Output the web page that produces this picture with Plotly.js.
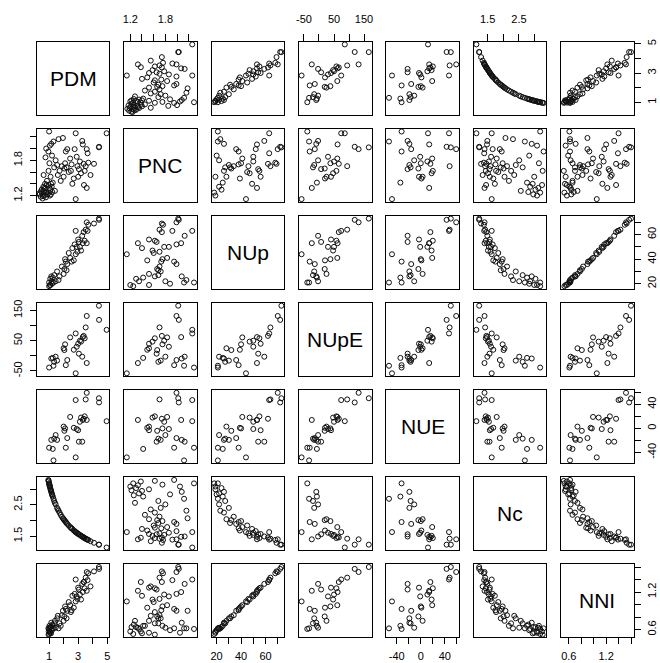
<!DOCTYPE html>
<html>
<head>
<meta charset="utf-8">
<script src="https://cdn.plot.ly/plotly-3.0.1.min.js"></script>
<style>body{margin:0;background:#fff}#chart{width:660px;height:663px}</style>
</head>
<body>
<div id="chart"></div>
<script>
// ---- data (one entry per observation; null = missing) ----
const PDM = [0.95,0.96,0.97,1.00,1.00,1.02,1.05,1.05,1.08,1.10,
             1.12,1.15,1.18,1.20,1.25,1.30,1.35,1.40,1.45,1.55,
             1.65,1.72,1.80,1.88,1.95,2.00,2.10,2.20,2.25,2.35,
             2.45,2.55,2.60,2.70,2.76,2.83,2.83,2.90,2.95,3.05,
             3.12,3.20,3.28,3.32,3.38,3.45,3.52,3.59,3.59,3.70,
             3.85,4.09,4.43,4.44,4.96,1.03,1.13,1.22,1.60,2.05,
             2.50,3.00,3.40,3.65,2.15,
             0.33,0.35,0.42,0.45,0.48,0.52,0.55,0.58,0.60,0.62,
             0.63,0.65,0.68,0.70,0.72,0.75,0.75,0.78,0.80,0.80,
             0.82,0.85,0.88];
const PNC = [1.95,1.62,1.38,2.29,1.25,1.75,1.20,2.05,1.30,1.52,
             1.22,2.08,1.35,1.88,1.42,2.12,1.68,1.28,1.80,1.72,
             2.16,1.62,1.45,1.70,2.18,1.52,1.75,1.68,1.99,1.60,
             1.83,1.73,1.40,1.49,1.99,2.26,1.14,1.86,1.70,1.65,
             1.78,1.58,2.13,2.07,1.74,1.62,1.70,1.99,1.33,1.76,
             1.55,1.74,2.02,2.03,2.26,1.33,1.40,1.26,1.55,1.66,
             1.62,1.52,1.38,1.92,1.95,
             1.24,1.22,1.18,1.27,1.30,1.25,1.15,1.19,1.35,1.55,
             1.28,1.33,1.20,1.25,1.40,1.32,1.85,1.17,1.26,2.00,
             1.38,1.45,1.22];
const NUp = [null,null,null,21,18,null,19,null,24,19,
             null,26,22,20,25,21,27,null,22,30,
             23,26,null,34,null,28,40,31,36,45,
             41,38,49,39,52,63,44,50,46,54,
             50,47,59,53,62,55,64,70,53,68,
             null,69,73,72,null,null,null,null,null,32,
             null,56,null,63,38,
             null,null,null,null,null,null,null,null,null,null,
             null,null,null,null,null,null,null,null,null,null,
             null,null,null];
const NUpE = [null,null,null,-39,null,null,null,null,null,null,
              null,-9,null,null,-7,-33,-20,null,-3,-16,
              null,null,null,null,null,25,38,null,-14,null,
              61,null,null,20,null,74,-58,30,null,7,
              50,47,-3,62,66,58,94,132,-24,null,
              null,null,166,119,86,null,null,null,null,19,
              null,40,null,null,-31,
              null,null,null,null,null,null,null,null,null,null,
              null,null,null,null,null,null,null,null,null,null,
              null,null,null];
const NUE = [null,null,null,-32,null,null,null,null,null,null,
             null,-19,null,null,-34,-53,-17,null,-11,-19,
             null,null,null,null,null,3,0,null,-16,null,
             19,null,null,1,null,47,-48,-1,null,-22,
             11,18,-22,14,16,20,48,59,14,null,
             null,null,50,43,12,null,null,null,null,-4,
             null,-3,null,null,-32,
             null,null,null,null,null,null,null,null,null,null,
             null,null,null,null,null,null,null,null,null,null,
             null,null,null];
const Nc = [3.29,3.26,3.24,3.18,3.18,3.14,3.08,3.08,3.03,2.99,
            2.96,2.91,2.86,2.83,2.76,2.69,2.62,2.56,2.51,2.40,
            2.31,2.25,2.18,2.12,2.07,2.04,1.98,1.92,1.89,1.84,
            1.79,1.75,1.73,1.68,1.66,1.63,1.63,1.61,1.59,1.56,
            1.54,1.51,1.49,1.48,1.46,1.44,1.42,1.40,1.40,1.38,
            1.34,1.29,1.23,1.23,1.14,3.12,2.94,2.80,2.35,2.01,
            1.77,1.57,1.45,1.39,1.95,
            null,null,null,null,null,null,null,null,null,null,
            null,null,null,null,null,null,null,null,null,null,
            null,null,null];
const NNI = [0.62,0.52,0.57,0.61,0.53,0.66,0.57,0.55,0.64,0.55,
             0.64,0.71,0.61,0.59,0.66,0.62,0.70,0.74,0.63,0.78,
             0.62,0.70,0.66,0.83,0.90,0.74,0.97,0.78,0.90,1.04,
             0.99,0.91,1.14,0.95,1.17,1.40,1.05,1.13,1.09,1.24,
             1.16,1.08,1.33,1.20,1.36,1.26,1.43,1.52,1.22,1.50,
             1.29,1.53,1.60,1.57,null,0.63,0.54,0.68,0.82,0.81,
             0.88,1.27,1.36,1.39,0.93,
             null,null,null,null,null,null,null,null,null,null,
             null,null,null,null,null,null,null,null,null,null,
             null,null,null];

const varNames = ['PDM','PNC','NUp','NUpE','NUE','Nc','NNI'];
const series = [PDM, PNC, NUp, NUpE, NUE, Nc, NNI];
const tickVals = [[1,2,3,4,5],[1.2,1.4,1.6,1.8,2.0,2.2],[20,30,40,50,60,70],
                  [-50,0,50,100,150],[-40,-20,0,20,40,60],[1.5,2.0,2.5,3.0],
                  [0.6,0.8,1.0,1.2,1.4,1.6]];
const tickText = [['1','','3','','5'],['1.2','','','1.8','',''],['20','','40','','60',''],
                  ['-50','','50','','150'],['-40','','0','','40',''],['1.5','','2.5',''],
                  ['0.6','','','1.2','','']];

// ---- layout geometry ----
const Wp = 660, Hp = 663;
const L0 = 36.7, PX = 87.4, PW = 72.6;
const T0 = 41.7, PY = 87.1, PH = 73;

function rangeOf(a){
  const v = a.filter(x => x !== null);
  const mn = Math.min(...v), mx = Math.max(...v), d = (mx - mn) * 0.04;
  return [mn - d, mx + d];
}
const ranges = series.map(rangeOf);

const tickFont = {family:'Liberation Sans, Arial, sans-serif', size:11, color:'#000'};
const layout = {
  width: Wp, height: Hp,
  margin: {l:0, r:0, t:0, b:0, pad:0},
  showlegend: false,
  paper_bgcolor: '#fff', plot_bgcolor: '#fff',
  font: {family:'Liberation Sans, Arial, sans-serif', size:11, color:'#000'},
  annotations: []
};
const traces = [];
const n = varNames.length;
for (let r = 0; r < n; r++) {
  for (let c = 0; c < n; c++) {
    const k = r * n + c + 1;
    const sfx = k === 1 ? '' : String(k);
    const left = L0 + c * PX, top = T0 + r * PY;
    const base = {showline:true, mirror:true, linecolor:'#000', linewidth:1,
                  showgrid:false, zeroline:false, fixedrange:true,
                  ticks:'', showticklabels:false, tickfont:tickFont,
                  ticklen:6, tickwidth:1, tickcolor:'#000'};
    const xa = Object.assign({}, base, {
      domain:[left / Wp, (left + PW) / Wp], anchor:'y' + sfx, range:ranges[c]});
    const ya = Object.assign({}, base, {
      domain:[1 - (top + PH) / Hp, 1 - top / Hp], anchor:'x' + sfx, range:ranges[r]});
    if (r === 0 && c % 2 === 1) Object.assign(xa, {side:'top', ticks:'outside', ticklen:7, showticklabels:true, ticklabelstandoff:6, tickmode:'array', tickvals:tickVals[c], ticktext:tickText[c]});
    if (r === n - 1 && c % 2 === 0) Object.assign(xa, {side:'bottom', ticks:'outside', showticklabels:true, ticklabelstandoff:2, tickmode:'array', tickvals:tickVals[c], ticktext:tickText[c]});
    if (c === 0 && r % 2 === 1) Object.assign(ya, {side:'left', ticks:'outside', showticklabels:true, ticklabelstandoff:3, tickangle:-90, tickmode:'array', tickvals:tickVals[r], ticktext:tickText[r]});
    if (c === n - 1 && r % 2 === 0) Object.assign(ya, {side:'right', ticks:'outside', showticklabels:true, ticklabelstandoff:2, tickangle:-90, tickmode:'array', tickvals:tickVals[r], ticktext:tickText[r]});
    layout['xaxis' + sfx] = xa;
    layout['yaxis' + sfx] = ya;
    if (r !== c) {
      traces.push({type:'scatter', mode:'markers', x:series[c], y:series[r],
        xaxis:'x' + sfx, yaxis:'y' + sfx, hoverinfo:'skip', cliponaxis:false,
        marker:{symbol:'circle-open', size:5, color:'#111', line:{width:1, color:'#111'}}});
    } else {
      traces.push({type:'scatter', mode:'markers', x:[], y:[], xaxis:'x' + sfx, yaxis:'y' + sfx, hoverinfo:'skip'});
      layout.annotations.push({text:varNames[r], xref:'paper', yref:'paper',
        x:(left + PW / 2) / Wp, y:1 - (top + PH / 2) / Hp, showarrow:false,
        xanchor:'center', yanchor:'middle',
        font:{family:'Liberation Sans, Arial, sans-serif', size:21, color:'#000'}});
    }
  }
}
Plotly.newPlot('chart', traces, layout, {staticPlot:true, displayModeBar:false});
</script>
</body>
</html>
